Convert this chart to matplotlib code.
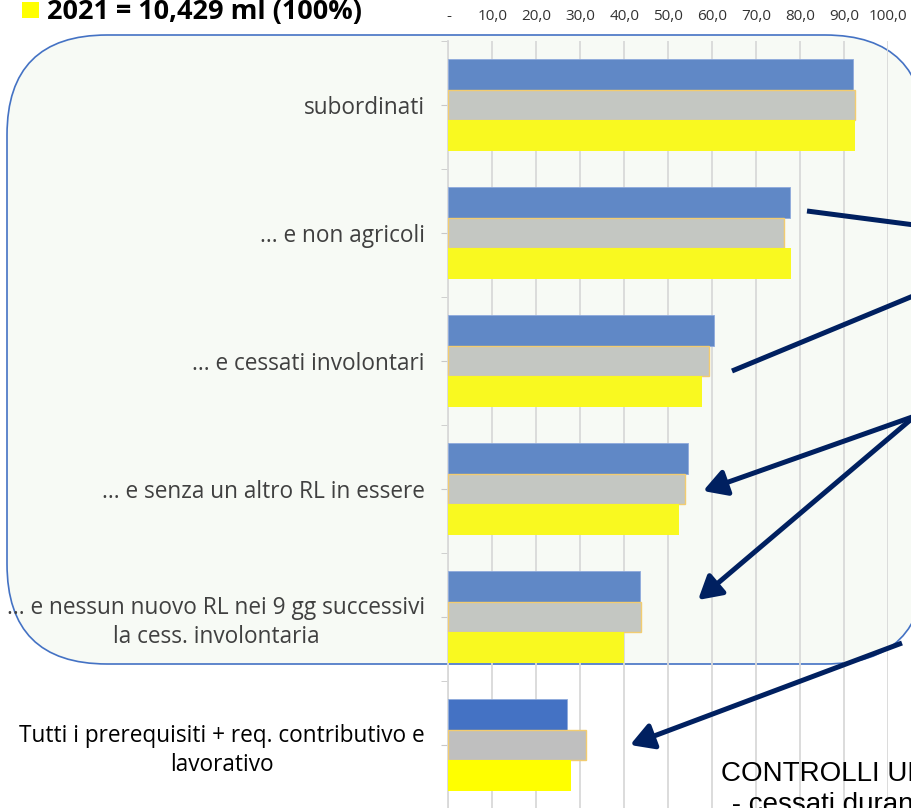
import numpy as np
import matplotlib.pyplot as plt
from matplotlib.patches import FancyBboxPatch, FancyArrowPatch, Rectangle
from matplotlib.transforms import IdentityTransform

W, H = 912, 808

categories = [
    "subordinati",
    "... e non agricoli",
    "... e cessati involontari",
    "... e senza un altro RL in essere",
    "... e nessun nuovo RL nei 9 gg successivi\nla cess. involontaria",
    "Tutti i prerequisiti + req. contributivo e\nlavorativo",
]
serie_blu = [92.1, 77.8, 60.3, 54.6, 43.6, 26.9]
serie_grigia = [92.6, 76.3, 59.2, 53.9, 43.9, 31.3]
serie_gialla = [92.4, 78.0, 57.7, 52.4, 40.0, 27.9]
x_ticks = np.arange(0, 101, 10)
x_labels = ["-"] + [f"{v:.1f}".replace(".", ",") for v in x_ticks[1:]]
legend_text = "2021 = 10,429 ml (100%)"

# i primi 5 gruppi stanno dentro il riquadro arrotondato (colori un po' sbiaditi)
n_box = 5

def px(x, y):
    return x, H - y

fig = plt.figure(figsize=(W / 100, H / 100), dpi=100)
fig.patch.set_facecolor("white")

# riquadro arrotondato dietro al grafico
x0, y0 = px(7, 664)
box = FancyBboxPatch((x0, y0), 918, 629, boxstyle="round,pad=0,rounding_size=100",
                     transform=IdentityTransform(), facecolor="#F7FAF5",
                     edgecolor="#4472C4", lw=1.2, zorder=-1)
fig.patches.append(box)

ax = fig.add_axes([448.5 / W, 1 - 809 / H, (888 - 448.5) / W, 768 / H])
ax.set_facecolor("none")

y = np.arange(len(categories))
h = 0.238
inside = y < n_box
c_blu = np.where(inside, "#6088C6", "#4472C4")
c_gri = np.where(inside, "#C4C7C2", "#BFBFBF")
c_gia = np.where(inside, "#F9F920", "#FFFF00")

ax.barh(y - h, serie_blu, height=h, color=c_blu, edgecolor="#8FAADC", lw=0.6, zorder=3)
ax.barh(y, serie_grigia, height=h, color=c_gri, edgecolor="#F2CC70", lw=1.0, zorder=3)
ax.barh(y + h, serie_gialla, height=h, color=c_gia, lw=0, zorder=3)

ax.set_xlim(0, 100)
ax.set_ylim(len(categories) - 0.5, -0.5)

ax.xaxis.tick_top()
ax.set_xticks(x_ticks)
ax.set_xticklabels(x_labels, fontsize=11, family="Open Sans", color="#333333")
ax.tick_params(axis="x", length=0, pad=12)
ax.grid(axis="x", color="#D9D9D9", lw=1.3, zorder=0)

ax.set_yticks(y)
ax.set_yticklabels(categories, fontsize=16.3, family="Open Sans", multialignment="center",
                   linespacing=1.3)
for i, lab in enumerate(ax.get_yticklabels()):
    lab.set_color("#404040" if i < n_box else "black")
ax.set_yticks(np.arange(-0.5, len(categories)), minor=True)
ax.tick_params(axis="y", which="both", length=5, color="#C8C8C8", pad=12)

for s in ["top", "right", "bottom"]:
    ax.spines[s].set_visible(False)
ax.spines["left"].set_color("#D9D9D9")
ax.spines["left"].set_linewidth(1.3)

# legenda parziale in alto a sinistra
sq_x, sq_y = px(22, 18)
fig.patches.append(Rectangle((sq_x, sq_y), 17, 16, transform=IdentityTransform(),
                             facecolor="#FFFF00", lw=0))
fig.text(47 / W, 1 - 12.5 / H, legend_text, fontsize=19.5, fontweight="bold",
         family="Open Sans", va="center", ha="left")

# frecce
navy = "#002060"
linee = [((807, 211), (930, 227), False),
         ((732, 371), (930, 289), False),
         ((915, 416), (703, 491), True),
         ((915, 416), (698, 600), True),
         ((902, 643), (630, 745), True)]
for a, b, head in linee:
    style = "-|>,head_length=0.7,head_width=0.4" if head else "-"
    arr = FancyArrowPatch(px(*a), px(*b), transform=IdentityTransform(), arrowstyle=style,
                          mutation_scale=20, lw=3.6, color=navy, shrinkA=0, shrinkB=0,
                          capstyle="butt", zorder=10)
    fig.patches.append(arr)

fig.text(721 / W, 1 - 781 / H, "CONTROLLI UNIEMENS", fontsize=20,
         family="Liberation Sans", va="baseline", ha="left")
fig.text(724 / W, 1 - 812 / H, " - cessati durante il periodo", fontsize=20,
         family="Liberation Sans", va="baseline", ha="left")

fig.savefig("out.png", dpi=100)
